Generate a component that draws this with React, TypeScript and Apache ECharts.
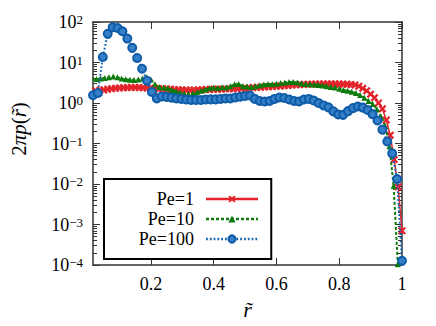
import React, { useEffect, useRef } from 'react';
import * as echarts from 'echarts';

// Pe=1 : 80 uniform bins, x = i/80
const redY = [
  1.85, 2.0, 2.05, 2.1, 2.2, 2.25, 2.3, 2.35, 2.38, 2.4,
  2.42, 2.42, 2.4, 2.38, 2.35, 2.3, 2.28, 2.25, 2.25, 2.22,
  2.2, 2.15, 2.12, 2.1, 2.08, 2.06, 2.08, 2.1, 2.12, 2.15,
  2.15, 2.18, 2.2, 2.2, 2.22, 2.25, 2.25, 2.28, 2.3, 2.32,
  2.35, 2.4, 2.42, 2.45, 2.5, 2.52, 2.55, 2.6, 2.62, 2.68,
  2.72, 2.78, 2.82, 2.85, 2.88, 2.9, 2.92, 2.93, 2.93, 2.95,
  2.95, 2.95, 2.95, 2.94, 2.92, 2.9, 2.85, 2.8, 2.6, 2.3,
  2.0, 1.65, 1.35, 1.0, 0.72, 0.38, 0.16, 0.04, 0.0085, 0.0007,
];
// Pe=10 : 75 uniform bins, x = i/75
const greenY = [
  3.7, 3.9, 4.05, 4.15, 4.3, 4.5, 4.3, 4.0, 3.85, 3.75,
  3.7, 3.8, 4.0, 4.3, 3.8, 2.9, 2.5, 2.4, 2.3, 2.1,
  1.95, 1.8, 1.7, 1.65, 1.72, 1.85, 2.0, 2.15, 2.3, 2.4,
  2.35, 2.45, 2.4, 2.6, 2.9, 2.95, 2.6, 2.55, 2.5, 2.6,
  2.75, 2.85, 2.95, 2.9, 3.0, 3.1, 3.2, 3.3, 3.3, 3.2,
  3.05, 2.95, 2.9, 2.85, 2.8, 2.7, 2.6, 2.5, 2.4, 2.25,
  2.1, 2.0, 1.9, 1.76, 1.58, 1.35, 1.12, 0.95, 0.7, 0.46,
  0.27, 0.085, 0.009, 0.000105,
];
// Pe=100 : 64 uniform bins, x = i/64
const blueY = [
  1.55, 1.77, 13.7, 51, 74, 71, 59, 39, 23, 12.9,
  7.0, 3.55, 1.87, 1.3, 1.45, 1.42, 1.36, 1.3, 1.26, 1.22,
  1.19, 1.19, 1.19, 1.22, 1.23, 1.23, 1.26, 1.29, 1.29, 1.37,
  1.43, 1.49, 1.53, 1.26, 1.12, 1.09, 1.12, 1.26, 1.37, 1.33,
  1.22, 1.12, 1.09, 1.22, 1.26, 1.15, 1.0, 0.87, 0.78, 0.62,
  0.52, 0.51, 0.63, 0.75, 0.82, 0.77, 0.67, 0.53, 0.37, 0.22,
  0.112, 0.057, 0.0133, 0.000127,
];

const seriesNames = ['Pe=1', 'Pe=10', 'Pe=100'];
const binCounts = [80, 75, 64];
const xTicks = [0.2, 0.4, 0.6, 0.8, 1];
const yMajor = [1e-4, 1e-3, 1e-2, 1e-1, 1, 10, 100];
const yMinorMultipliers = [2, 3, 4, 5, 6, 7, 8, 9];
const yMinor: number[] = [];
for (const d of yMajor.slice(0, -1)) for (const m of yMinorMultipliers) yMinor.push(+(d * m).toPrecision(3));

const FONT = "'Liberation Serif', 'DejaVu Serif', serif";
const RED = '#e3242b';
const GREEN = '#0d7a0d';
const BLUE = '#1565b5';
const AXIS = '#333';

const toPairs = (vals: number[], n: number) => vals.map((v, i) => [(i + 1) / n, v]);

export default function App() {
  const ref = useRef<HTMLDivElement>(null);
  useEffect(() => {
    if (!ref.current) return;
    const chart = echarts.init(ref.current, undefined, { renderer: 'svg' });
    const tickBase = { show: true, inside: true, lineStyle: { color: AXIS, width: 1 } };
    const lineBase = { show: true, onZero: false, lineStyle: { color: AXIS, width: 1.5 } };
    const yLog = { type: 'log', logBase: 10, min: 1e-4, max: 100, splitLine: { show: false }, gridIndex: 0 };
    const option: any = {
      animation: false,
      backgroundColor: '#fff',
      textStyle: { fontFamily: FONT },
      grid: { left: 93, top: 22, width: 309, height: 243 },
      legend: {
        data: seriesNames,
        orient: 'vertical',
        left: 104,
        top: 179,
        align: 'right',
        itemWidth: 52,
        itemHeight: 9,
        itemGap: 0,
        padding: [10, 12, 10, 28],
        backgroundColor: '#fff',
        borderColor: '#000',
        borderWidth: 2,
        borderRadius: 0,
        selectedMode: false,
        lineStyle: { width: 2.5 },
        textStyle: {
          fontFamily: FONT, fontSize: 18, color: '#000', lineHeight: 20,
          width: 62, align: 'right', padding: [0, 7, 0, 0],
        },
      },
      xAxis: [
        {
          type: 'value', position: 'bottom', min: 1 / 64, max: 1,
          splitLine: { show: false },
          axisLine: lineBase,
          axisTick: { ...tickBase, length: 7, customValues: xTicks },
          axisLabel: {
            customValues: xTicks, margin: 10, fontSize: 18, color: '#000', fontFamily: FONT,
            formatter: (v: number) => (v === 1 ? '1' : v.toFixed(1)),
          },
          name: 'r\u0303',
          nameLocation: 'middle',
          nameGap: 33,
          nameTextStyle: { fontSize: 22, fontStyle: 'italic', fontFamily: FONT, color: '#000' },
        },
        {
          type: 'value', position: 'top', min: 1 / 64, max: 1,
          splitLine: { show: false },
          axisLine: lineBase,
          axisTick: { ...tickBase, length: 7, customValues: xTicks },
          axisLabel: { show: false },
        },
      ],
      yAxis: [
        {
          ...yLog, position: 'left',
          axisLine: lineBase,
          axisTick: { ...tickBase, length: 7, customValues: yMajor },
          axisLabel: {
            customValues: yMajor, margin: 10, color: '#000',
            formatter: (v: number) => {
              const e = Math.round(Math.log10(v));
              return `{b|10}{s|${e < 0 ? '\u2212' + -e : e}}`;
            },
            rich: {
              b: { fontSize: 18, fontFamily: FONT, color: '#000', lineHeight: 18, padding: [5, 0, 0, 0], verticalAlign: 'bottom' },
              s: { fontSize: 13, fontFamily: FONT, color: '#000', lineHeight: 13, verticalAlign: 'top' },
            },
          },
        },
        {
          ...yLog, position: 'left',
          axisLine: { show: false },
          axisTick: { ...tickBase, length: 4, customValues: yMinor },
          axisLabel: { show: false },
        },
        {
          ...yLog, position: 'right',
          axisLine: lineBase,
          axisTick: { ...tickBase, length: 7, customValues: yMajor },
          axisLabel: { show: false },
        },
        {
          ...yLog, position: 'right',
          axisLine: { show: false },
          axisTick: { ...tickBase, length: 4, customValues: yMinor },
          axisLabel: { show: false },
        },
      ],
      graphic: [
        {
          type: 'text', x: 19, y: 129, rotation: Math.PI / 2,
          style: {
            text: '{n|2}{i|\u03c0p}{n|(}{i|r\u0303}{n|)}',
            align: 'center', verticalAlign: 'middle',
            rich: {
              n: { fontSize: 21, fontFamily: FONT, fill: '#000' },
              i: { fontSize: 21, fontFamily: FONT, fontStyle: 'italic', fill: '#000' },
            },
          },
        },
      ],
      series: [
        {
          name: seriesNames[0], type: 'line', xAxisIndex: 0, yAxisIndex: 0,
          data: toPairs(redY, binCounts[0]),
          symbol: 'path://M0,2 L2,0 L5,3 L8,0 L10,2 L7,5 L10,8 L8,10 L5,7 L2,10 L0,8 L3,5 Z',
          symbolSize: 8,
          lineStyle: { color: RED, width: 1.5, type: 'solid' },
          itemStyle: { color: RED },
          z: 2,
        },
        {
          name: seriesNames[1], type: 'line', xAxisIndex: 0, yAxisIndex: 0,
          data: toPairs(greenY, binCounts[1]),
          symbol: 'triangle', symbolSize: 6,
          lineStyle: { color: GREEN, width: 2, type: [3, 2] },
          itemStyle: { color: GREEN },
          z: 3,
        },
        {
          name: seriesNames[2], type: 'line', xAxisIndex: 0, yAxisIndex: 0,
          data: toPairs(blueY, binCounts[2]),
          symbol: 'circle', symbolSize: 8,
          lineStyle: { color: BLUE, width: 2, type: [1.8, 2] },
          itemStyle: { color: '#3580c8', borderColor: '#0f5ca8', borderWidth: 2 },
          z: 4,
        },
      ],
    };
    chart.setOption(option);
    return () => chart.dispose();
  }, []);
  return <div ref={ref} style={{ position: 'fixed', left: 0, top: 0, width: 436, height: 326 }} />;
}
